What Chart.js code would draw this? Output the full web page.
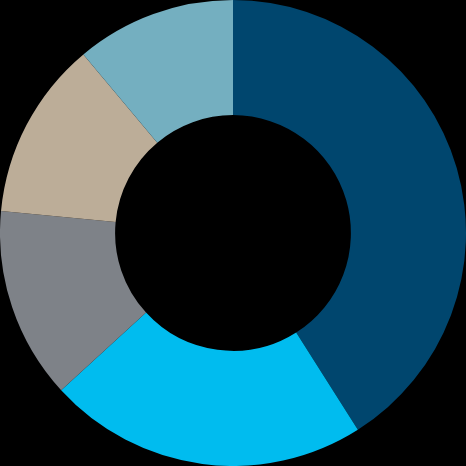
<!DOCTYPE html>
<html>
<head>
<meta charset="utf-8">
<script src="https://cdn.jsdelivr.net/npm/chart.js@4"></script>
<style>
  html, body { margin: 0; padding: 0; background: #000; }
  #wrap { width: 466px; height: 466px; }
</style>
</head>
<body>
<div id="wrap"><canvas id="shareChart" width="466" height="466"></canvas></div>
<script>
// Slices, clockwise from 12 o'clock
const labels = ['A', 'B', 'C', 'D', 'E'];
const shares = [41, 22.2, 13.3, 12.4, 11.1];
const colors = ['#00466e', '#00bcef', '#7e8288', '#bcad98', '#74afc0'];

const ctx = document.getElementById('shareChart').getContext('2d');

const share_chart = new Chart(ctx, {
    type: 'doughnut',
    data: {
        labels: labels,
        datasets: [{
            data: shares,
            backgroundColor: colors,
            borderWidth: 0
        }]
    },
    options: {
        responsive: false,
        animation: false,
        cutout: '50.6%',
        layout: { padding: 0 },
        plugins: {
            legend: { display: false },
            tooltip: { enabled: false }
        }
    }
});
</script>
</body>
</html>
